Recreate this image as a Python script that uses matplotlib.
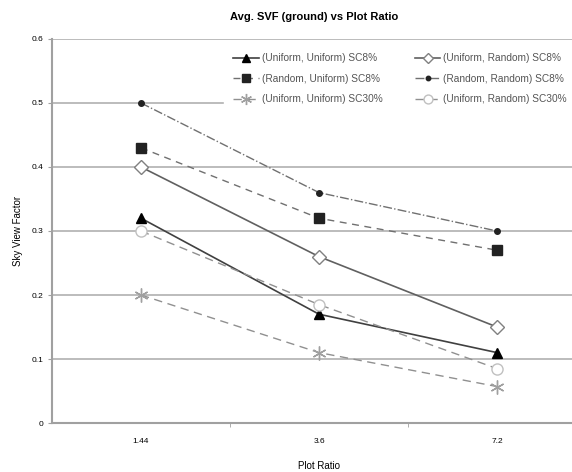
import matplotlib.pyplot as plt
import numpy as np

plt.rcParams['font.family'] = ['Liberation Sans', 'DejaVu Sans']

# Data
plot_ratio = ["1.44", "3.6", "7.2"]
uu_sc8 = [0.32, 0.17, 0.11]
ur_sc8 = [0.40, 0.26, 0.15]
ru_sc8 = [0.43, 0.32, 0.27]
rr_sc8 = [0.50, 0.36, 0.30]
uu_sc30 = [0.20, 0.11, 0.057]
ur_sc30 = [0.30, 0.185, 0.085]

x = np.arange(len(plot_ratio))

fig = plt.figure(figsize=(5.72, 4.72), dpi=100)
ax = fig.add_axes([52/572, 49/472, 534/572, 384/472])

h1, = ax.plot(x, uu_sc8, "-", color="#404040", lw=1.2, marker="^", ms=7,
              mfc="black", mec="black", label="(Uniform, Uniform) SC8%")
h4, = ax.plot(x, ur_sc8, "-", color="#606060", lw=1.2, marker="D", ms=7,
              mfc="white", mec="#808080", label="(Uniform, Random) SC8%")
h2, = ax.plot(x, ru_sc8, "--", color="#707070", lw=1.0, dashes=(5, 4), marker="s", ms=7,
              mfc="#222222", mec="#222222", label="(Random, Uniform) SC8%")
h5, = ax.plot(x, rr_sc8, "-.", color="#707070", lw=1.0, marker="o", ms=4,
              mfc="#222222", mec="#222222", label="(Random, Random) SC8%")
h3, = ax.plot(x, uu_sc30, "--", color="#909090", lw=1.0, dashes=(6, 4), marker=(6, 2, 0), ms=10,
              mfc="none", mec="#a0a0a0", label="(Uniform, Uniform) SC30%")
h6, = ax.plot(x, ur_sc30, "--", color="#909090", lw=1.0, dashes=(6, 4), marker="o", ms=8,
              mfc="white", mec="#c0c0c0", label="(Uniform, Random) SC30%")

ax.set_xlim(-0.5, 2.5)
ax.set_ylim(0, 0.6)
ax.set_xticks(x)
ax.set_xticklabels(plot_ratio, fontsize=6)
ax.set_xticks([0.5, 1.5], minor=True)
ax.tick_params(axis="x", which="major", length=0, pad=11)
ax.tick_params(axis="x", which="minor", length=3, color="#a0a0a0")
ax.set_yticks([0, 0.1, 0.2, 0.3, 0.4, 0.5, 0.6])
ax.set_yticklabels(["0", "0.1", "0.2", "0.3", "0.4", "0.5", "0.6"], fontsize=6)
ax.tick_params(axis="y", length=3, color="#a0a0a0", pad=3)

ax.grid(axis="y", color="#b0b0b0", lw=1.2)
ax.set_axisbelow(True)
for s in ["top", "right"]:
    ax.spines[s].set_visible(False)
for s in ["left", "bottom"]:
    ax.spines[s].set_color("#a0a0a0")
    ax.spines[s].set_linewidth(1.5)

ax.set_title("Avg. SVF (ground) vs Plot Ratio", fontsize=8, fontweight="bold", pad=14, x=0.49)
ax.set_xlabel("Plot Ratio", fontsize=7, labelpad=11)
ax.set_ylabel("Sky View Factor", fontsize=7, labelpad=6)

leg = ax.legend(handles=[h1, h2, h3, h4, h5, h6], ncol=2, fontsize=7.3,
                loc="upper left", bbox_to_anchor=(0.313, 1.0), frameon=True,
                framealpha=1, edgecolor="white", facecolor="white", borderpad=0.9,
                handlelength=2.5, handletextpad=0.3, columnspacing=3.2, labelspacing=1.05,
                markerscale=0.8, labelcolor="#555555")

fig.savefig("out.png", dpi=100)
